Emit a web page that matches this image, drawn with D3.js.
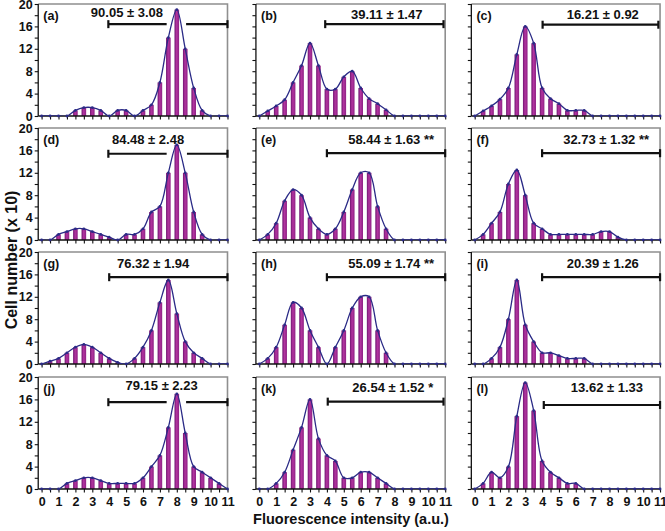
<!DOCTYPE html>
<html><head><meta charset="utf-8">
<script src="https://cdn.jsdelivr.net/npm/d3@7"></script>
<style>body{margin:0;background:#fff}svg{display:block}text{font-family:"Liberation Sans",Arial,sans-serif;font-weight:bold;fill:#111}</style>
</head><body>
<svg id="c" width="665" height="531"></svg>
<script>
// x categories (fluorescence intensity, a.u.)
const xs = [0,0.5,1,1.5,2,2.5,3,3.5,4,4.5,5,5.5,6,6.5,7,7.5,8,8.5,9,9.5,10,10.5,11];
const xTickLabels = ["0","1","2","3","4","5","6","7","8","9","10","11"];
const yTickLabels = ["0","4","8","12","16","20"];
// cell numbers (x10) per panel
const valsA = [0,0,0,0,1,1.5,1.5,1,0,1,1,0,1,2,6,14,19,12,5,1,0,0,0];
const valsB = [0,0.9,1.8,2.9,6,9,13,9,4.8,4.8,7,8,5,3.1,2.2,1.1,0,0,0,0,0,0,0];
const valsC = [0,0.9,1.8,3,5,11,16,13,5,3.1,2.2,1,1,1,0,0,0,0,0,0,0,0,0];
const valsD = [0,0,1,1.5,2,2,1.5,1,0.5,0,1,1,2,5,6,12,17,12,5,1,0,0,0];
const valsE = [0,1,3,7,9,8,4,2,1,2,5,9,12,12,6,2,0,0,0,0,0,0,0];
const valsF = [0,1,3,5,10,12.5,8,3,2,1,1,1,1,1,1,1.5,1.5,0.5,0,0,0,0,0];
const valsG = [0,0.5,1,2,3,3.5,3,2,1,0.3,0,1,3,6,11,15,9,4,2,1,0,0,0];
const valsH = [0,1,3,7,11,10,6,3,0,3,6,10,12,12,6,2,0,0,0,0,0,0,0];
const valsI = [0,0,1,3,8,15,7,4,2,2,1.5,1,1,1,0,0,0,0,0,0,0,0,0];
const valsJ = [0,0,0,1,1.5,2,2,1.5,1,1,1,1,2,4,6,11,17,10,4,3,2,1,0];
const valsK = [0,0,1,3,7,11,16,9,6,5,2,2,3,3,2,1,0,0,0,0,0,0,0];
const valsL = [0,1,3,2,4,13,19,14,5,3,2,1,1,0,0,0,0,0,0,0,0,0,0];
const panelLabels = ["(a)","(b)","(c)","(d)","(e)","(f)","(g)","(h)","(i)","(j)","(k)","(l)"];
const annotTexts = ["90.05 ± 3.08","39.11 ± 1.47","16.21 ± 0.92","84.48 ± 2.48","58.44 ± 1.63 **","32.73 ± 1.32 **","76.32 ± 1.94","55.09 ± 1.74 **","20.39 ± 1.26","79.15 ± 2.23","26.54 ± 1.52 *","13.62 ± 1.33"];
const annotX = [5.05,7.54,7.6,6.3,7.8,7.8,6.6,7.8,7.6,7.1,7.9,7.85];
const annotTextY = [17.7,17.4,17.4,17.2,17.2,17.2,17.2,17.2,17.2,17.7,17.3,17.4];
const annotLineY = [16.4,16.4,16.3,15.4,15.5,15.5,15.5,15.5,15.5,15.5,15.6,15.0];
const annotSegs = [[[3.95,7.4],[8.55,11]],[[3.9,10.9]],[[4.03,10.9]],[[3.95,7.4],[8.6,11]],[[4,11]],[[4,11]],[[4,11]],[[4,11]],[[4,11]],[[3.95,7.4],[8.55,11]],[[4.05,10.9]],[[4.1,11]]];
const allVals = [valsA,valsB,valsC,valsD,valsE,valsF,valsG,valsH,valsI,valsJ,valsK,valsL];

const svg = d3.select("#c");
const defs = svg.append("defs");
const grad = defs.append("linearGradient").attr("id","barg").attr("x1","0").attr("x2","1").attr("y1","0").attr("y2","0");
grad.append("stop").attr("offset","0%").attr("stop-color","#6e1470");
grad.append("stop").attr("offset","45%").attr("stop-color","#b2349f");
grad.append("stop").attr("offset","100%").attr("stop-color","#8e2184");

const colX0 = [41.6,259.3,474.7];
const colStep = [16.9,16.9,16.85];
const rowY0 = [116,240,364,489];
const unitY = 5.6;

allVals.forEach((vals,i)=>{
  const r = Math.floor(i/3), c = i%3;
  const x = d3.scaleLinear().domain([0,11]).range([colX0[c], colX0[c]+11*colStep[c]]);
  const y = d3.scaleLinear().domain([0,20]).range([rowY0[r], rowY0[r]-20*unitY]);
  const g = svg.append("g");
  const left = x(-0.2), right = x(11), top = y(20), bot = y(0);
  g.append("path").attr("d",`M${left},${top}H${right}V${bot}`).attr("fill","none").attr("stroke","#8f8f8f").attr("stroke-width",1.6);
  const cid = "clip"+i;
  defs.append("clipPath").attr("id",cid).append("rect").attr("x",left).attr("y",top).attr("width",right-left).attr("height",bot-top);
  const bw = 4.6;
  g.append("g").selectAll("rect").data(xs.map((v,k)=>({v,val:vals[k]})).filter(d=>d.val>0)).join("rect")
    .attr("x",d=>x(d.v)-bw/2).attr("width",bw).attr("y",d=>y(d.val)).attr("height",d=>bot-y(d.val))
    .attr("fill","url(#barg)");
  const yAx = d3.axisLeft(y).tickValues([0,2,4,6,8,10,12,14,16,18,20]).tickSize(3.5).tickFormat(d=> (c===0 && d%4===0) ? yTickLabels[d/4] : "");
  const ya = g.append("g").attr("transform",`translate(${left},0)`).call(yAx);
  const xAx = d3.axisBottom(x).tickValues(xs).tickSize(3.5).tickFormat(d=> (r===3 && Number.isInteger(d)) ? xTickLabels[d] : "");
  const xa = g.append("g").attr("transform",`translate(0,${bot})`).call(xAx);
  [ya,xa].forEach(a=>{
    a.select(".domain").remove();
    a.selectAll("line").attr("stroke","#111").attr("stroke-width",1.1);
    a.selectAll("text").attr("font-size","12.5px").attr("font-family",'"Liberation Sans",Arial,sans-serif').attr("font-weight","bold").attr("fill","#111");
  });
  ya.selectAll("text").attr("x",-5.5);
  xa.selectAll("text").attr("y",8);
  g.append("line").attr("x1",left).attr("x2",left).attr("y1",top).attr("y2",bot).attr("stroke","#111").attr("stroke-width",1.3);
  g.append("line").attr("x1",left).attr("x2",right).attr("y1",bot).attr("y2",bot).attr("stroke","#111").attr("stroke-width",1.3);
  const line = d3.line().x((d,k)=>x(xs[k])).y(d=>y(d)).curve(d3.curveCatmullRom.alpha(0.5));
  g.append("path").attr("d",line(vals)).attr("fill","none").attr("stroke","#2a2a86").attr("stroke-width",1.3).attr("clip-path",`url(#${cid})`);
  g.append("g").selectAll("circle").data(vals).join("circle").attr("cx",(d,k)=>x(xs[k])).attr("cy",d=>y(d)).attr("r",1.4).attr("fill","#2a2a86");
  g.append("text").attr("x",x(0.1)).attr("y",y(17.1)).attr("font-size","12.5px").text(panelLabels[i]);
  g.append("text").attr("x",x(annotX[i])).attr("y",y(annotTextY[i])).attr("text-anchor","middle").attr("font-size","13px").text(annotTexts[i]);
  annotSegs[i].forEach(s=>{
    g.append("line").attr("x1",x(s[0])).attr("x2",x(s[1])).attr("y1",y(annotLineY[i])).attr("y2",y(annotLineY[i])).attr("stroke","#111").attr("stroke-width",2.2);
  });
  const ends = [annotSegs[i][0][0], annotSegs[i][annotSegs[i].length-1][1]];
  ends.forEach(e=>{
    g.append("line").attr("x1",x(e)).attr("x2",x(e)).attr("y1",y(annotLineY[i])-4).attr("y2",y(annotLineY[i])+4).attr("stroke","#111").attr("stroke-width",2.2);
  });
});
svg.append("text").attr("x",351).attr("y",524).attr("text-anchor","middle").attr("font-size","14.5px").text("Fluorescence intensity (a.u.)");
svg.append("text").attr("transform","translate(16.5,260) rotate(-90)").attr("text-anchor","middle").attr("font-size","16px").text("Cell number (x 10)");
</script>
</body></html>
